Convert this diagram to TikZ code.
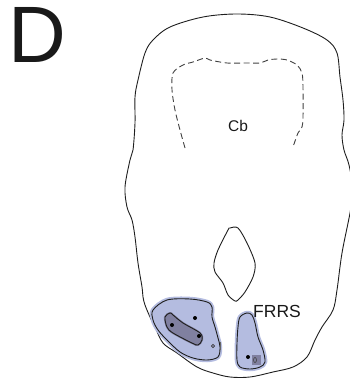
\documentclass[tikz,border=0pt]{standalone}
\usepackage{fontspec}
\setmainfont{Liberation Sans}
\usetikzlibrary{shapes.geometric}
\definecolor{regionblue}{RGB}{180,188,224}
\definecolor{coreblue}{RGB}{128,128,160}
\definecolor{inkline}{RGB}{30,30,30}
\begin{document}
\begin{tikzpicture}[x=1pt,y=-1pt,
  outline/.style={line width=0.9pt, draw=inkline},
  region/.style={fill=regionblue, draw=regionblue, line width=4.5pt, line join=round},
  core/.style={fill=coreblue, draw=coreblue, line width=2pt, line join=round},
  border/.style={line width=0.9pt, draw=inkline, line join=round},
  cbline/.style={line width=0.9pt, draw=black!75, dash pattern=on 6pt off 3.5pt},
  dot/.style={circle, fill=black, inner sep=0pt, minimum size=4pt},
  label/.style={inner sep=0pt, text=black!90}]
\useasboundingbox (0,0) rectangle (350,383);
\clip (0,0) rectangle (350,383);

% section outline
\draw[outline] plot[smooth cycle, tension=0.55] coordinates {
  (237,14) (270,17) (303,28) (327,40) (337,53) (340,77) (343,100) (344,120)
  (342,135) (344,150) (349,165) (353,190) (350,213) (342,253) (337,290)
  (333,310) (322,327) (315,340) (307,357) (293,367) (273,372) (250,377)
  (230,377) (213,373) (197,367) (177,353) (163,343) (155,327) (150,317)
  (145,305) (143,297) (142,287) (138,263) (135,237) (132,220) (127,207)
  (125,187) (130,160) (133,150) (135,123) (135,97) (138,80) (145,53)
  (153,40) (170,27) (203,17)};

% cerebellum border (dashed)
\draw[cbline] plot[smooth, tension=0.5] coordinates {
  (185,148) (180,130) (175,110) (172,90) (173,73) (183,65) (193,62)
  (205,58) (210,60) (227,63) (247,63) (260,63) (268,60) (277,59) (287,60)
  (297,65) (302,73) (303,87) (303,117) (302,127) (298,133) (293,147)};

% fourth ventricle
\draw[outline] plot[smooth cycle, tension=0.5] coordinates {
  (230,228) (238,228) (247,243) (255,263) (253,277) (245,292) (238,300)
  (235,301) (228,295) (223,283) (215,272) (214,263) (218,250) (228,230)};

% left labelled region
\path[region] plot[smooth cycle, tension=0.55] coordinates {
  (153,310) (167,300) (190,299) (207,302) (212,307) (212,317) (215,327)
  (218,338) (220,347) (218,357) (207,360) (193,358) (180,352) (167,340)
  (158,330) (153,320)};
\draw[border] plot[smooth cycle, tension=0.55] coordinates {
  (153,310) (167,300) (190,299) (207,302) (212,307) (212,317) (215,327)
  (218,338) (220,347) (218,357) (207,360) (193,358) (180,352) (167,340)
  (158,330) (153,320)};
\path[core] plot[smooth cycle, tension=0.55] coordinates {
  (165,317) (170,313) (173,315) (183,323) (200,333) (202,340) (198,345)
  (192,343) (173,333) (167,327)};
\draw[border] plot[smooth cycle, tension=0.55] coordinates {
  (165,317) (170,313) (173,315) (183,323) (200,333) (202,340) (198,345)
  (192,343) (173,333) (167,327)};
\node[dot] (d1) at (195,318) {};
\node[dot] (d2) at (172,325) {};
\node[dot] (d3) at (199,336) {};
\node[circle, draw=black!75, fill=coreblue, line width=0.6pt, inner sep=0pt, minimum size=3.5pt] (o1) at (213,346) {};
\draw[line width=1pt, draw=black!60] (220.5,342) -- (220.5,350);

% right labelled region
\path[region] plot[smooth cycle, tension=0.55] coordinates {
  (240,317) (247,313) (252,315) (255,323) (258,337) (263,350) (265,362)
  (260,367) (250,369) (240,367) (237,360) (237,343) (238,327)};
\draw[border] plot[smooth cycle, tension=0.55] coordinates {
  (240,317) (247,313) (252,315) (255,323) (258,337) (263,350) (265,362)
  (260,367) (250,369) (240,367) (237,360) (237,343) (238,327)};
\fill[coreblue] (252,355) rectangle (261,365);
\node[dot] (d4) at (248,357) {};
\node[ellipse, draw=black!75, line width=0.6pt, inner sep=0pt, minimum width=3pt, minimum height=5pt] (o2) at (255,360) {};

% labels
\node[label, font=\fontsize{80}{80}\selectfont] (panel) at (37,35) {D};
\node[label, font=\fontsize{15.5}{15.5}\selectfont] (cb) at (238,126) {Cb};
\node[label, font=\fontsize{17.5}{17.5}\selectfont] (frrs) at (277,311) {FRRS};
\end{tikzpicture}
\end{document}
